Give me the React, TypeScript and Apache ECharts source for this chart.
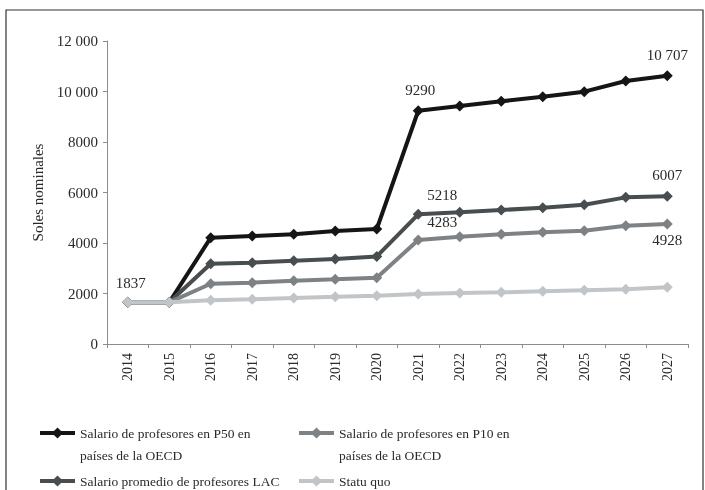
import React, { useEffect, useRef } from "react";
import * as echarts from "echarts";

const years = ["2014","2015","2016","2017","2018","2019","2020","2021","2022","2023","2024","2025","2026","2027"];

const p50Name = "Salario de profesores en P50 en\npaíses de la OECD";
const p10Name = "Salario de profesores en P10 en\npaíses de la OECD";
const lacName = "Salario promedio de profesores LAC";
const sqName = "Statu quo";

const p50Values = [1650, 1650, 4210, 4277, 4343, 4475, 4554, 9239, 9425, 9610, 9795, 9993, 10416, 10626];
const lacValues = [1650, 1650, 3180, 3220, 3300, 3366, 3470, 5136, 5214, 5307, 5398, 5517, 5808, 5848];
const p10Values = [1650, 1650, 2388, 2428, 2507, 2562, 2625, 4119, 4250, 4343, 4422, 4487, 4685, 4752];
const sqValues = [1650, 1650, 1730, 1770, 1822, 1874, 1912, 1980, 2020, 2046, 2085, 2125, 2164, 2243];

// annotation texts shown in the chart (index = year position)
const p50Labels = ["", "", "", "", "", "", "", "9290", "", "", "", "", "", "10 707"];
const lacLabels = ["", "", "", "", "", "", "", "5218", "", "", "", "", "", "6007"];
const p10Labels = ["", "", "", "", "", "", "", "4283", "", "", "", "", "", "4928"];
const sqLabels = ["1837", "", "", "", "", "", "", "", "", "", "", "", "", ""];

const yTicks = ["0", "2000", "4000", "6000", "8000", "10 000", "12 000"];

const FONT = "Liberation Serif";

export default function App() {
  const ref = useRef<HTMLDivElement>(null);
  useEffect(() => {
    if (!ref.current) return;
    const chart = echarts.init(ref.current, null, { renderer: "svg" });

    const labelStyle = { color: "#2a2a2a", fontFamily: FONT, fontSize: 15 };

    const mk = (values: number[], labels: string[], special: Record<number, any>) =>
      values.map((v, i) => {
        if (!labels[i]) return v;
        return {
          value: v,
          label: {
            show: true,
            formatter: labels[i],
            position: "top",
            distance: 8,
            ...labelStyle,
            ...(special[i] || {}),
          },
        };
      });

    const mkSeries = (name: string, color: string, data: any[], z: number) => ({
      name,
      type: "line",
      data,
      z,
      symbol: "diamond",
      symbolSize: 11,
      showAllSymbol: true,
      lineStyle: { color, width: 4 },
      itemStyle: { color },
      label: { show: false },
      emphasis: { disabled: true },
    });

    const legendBase = {
      orient: "vertical",
      padding: 0,
      itemWidth: 35,
      itemHeight: 14,
      itemGap: 8,
      selectedMode: false,
      lineStyle: { width: 4 },
      textStyle: { fontFamily: FONT, fontSize: 13.5, color: "#2a2a2a", lineHeight: 22 },
    };
    const twoLine = (name: string) => "\n" + name;

    chart.setOption({
      animation: false,
      textStyle: { fontFamily: FONT },
      graphic: [
        {
          type: "rect",
          shape: { x: 6, y: 10, width: 697, height: 500 },
          style: { fill: "none", stroke: "#333", lineWidth: 1.2 },
          silent: true,
        },
      ],
      grid: { left: 107, right: 17, top: 41, bottom: 146, containLabel: false },
      xAxis: {
        type: "category",
        data: years,
        boundaryGap: true,
        axisLine: { lineStyle: { color: "#8c8c8c", width: 1 } },
        axisTick: { show: true, length: 4, lineStyle: { color: "#8c8c8c" } },
        axisLabel: { rotate: 90, fontFamily: FONT, fontSize: 14, color: "#2a2a2a", margin: 9 },
        splitLine: { show: false },
      },
      yAxis: {
        type: "value",
        min: 0,
        max: 12000,
        interval: 2000,
        name: "Soles nominales",
        nameLocation: "middle",
        nameGap: 62,
        nameRotate: 90,
        nameTextStyle: { fontFamily: FONT, fontSize: 15, color: "#2a2a2a" },
        axisLine: { show: true, lineStyle: { color: "#8c8c8c", width: 1 } },
        axisTick: { show: true, length: 4, lineStyle: { color: "#8c8c8c" } },
        axisLabel: {
          fontFamily: FONT,
          fontSize: 15,
          color: "#2a2a2a",
          margin: 9,
          formatter: (v: number) => yTicks[Math.round(v / 2000)] ?? String(v),
        },
        splitLine: { show: false },
      },
      legend: [
        { ...legendBase, data: [p50Name], left: 38, top: 400, formatter: twoLine },
        { ...legendBase, data: [lacName], left: 38, top: 470 },
        { ...legendBase, data: [p10Name], left: 297, top: 400, formatter: twoLine },
        { ...legendBase, data: [sqName], left: 297, top: 470 },
      ],
      series: [
        mkSeries(p50Name, "#151515", mk(p50Values, p50Labels, { 7: { offset: [2, 0] } }), 4),
        mkSeries(lacName, "#484d4f", mk(lacValues, lacLabels, { 7: { offset: [24, 2] } }), 5),
        mkSeries(p10Name, "#7e8285", mk(p10Values, p10Labels, { 7: { offset: [24, 3] }, 13: { position: "bottom", distance: 3 } }), 6),
        mkSeries(sqName, "#c2c5c8", mk(sqValues, sqLabels, { 0: { offset: [3, 0], distance: 6 } }), 7),
      ],
    });
    return () => chart.dispose();
  }, []);
  return <div ref={ref} style={{ position: "fixed", left: 0, top: 0, width: 705, height: 490 }} />;
}
